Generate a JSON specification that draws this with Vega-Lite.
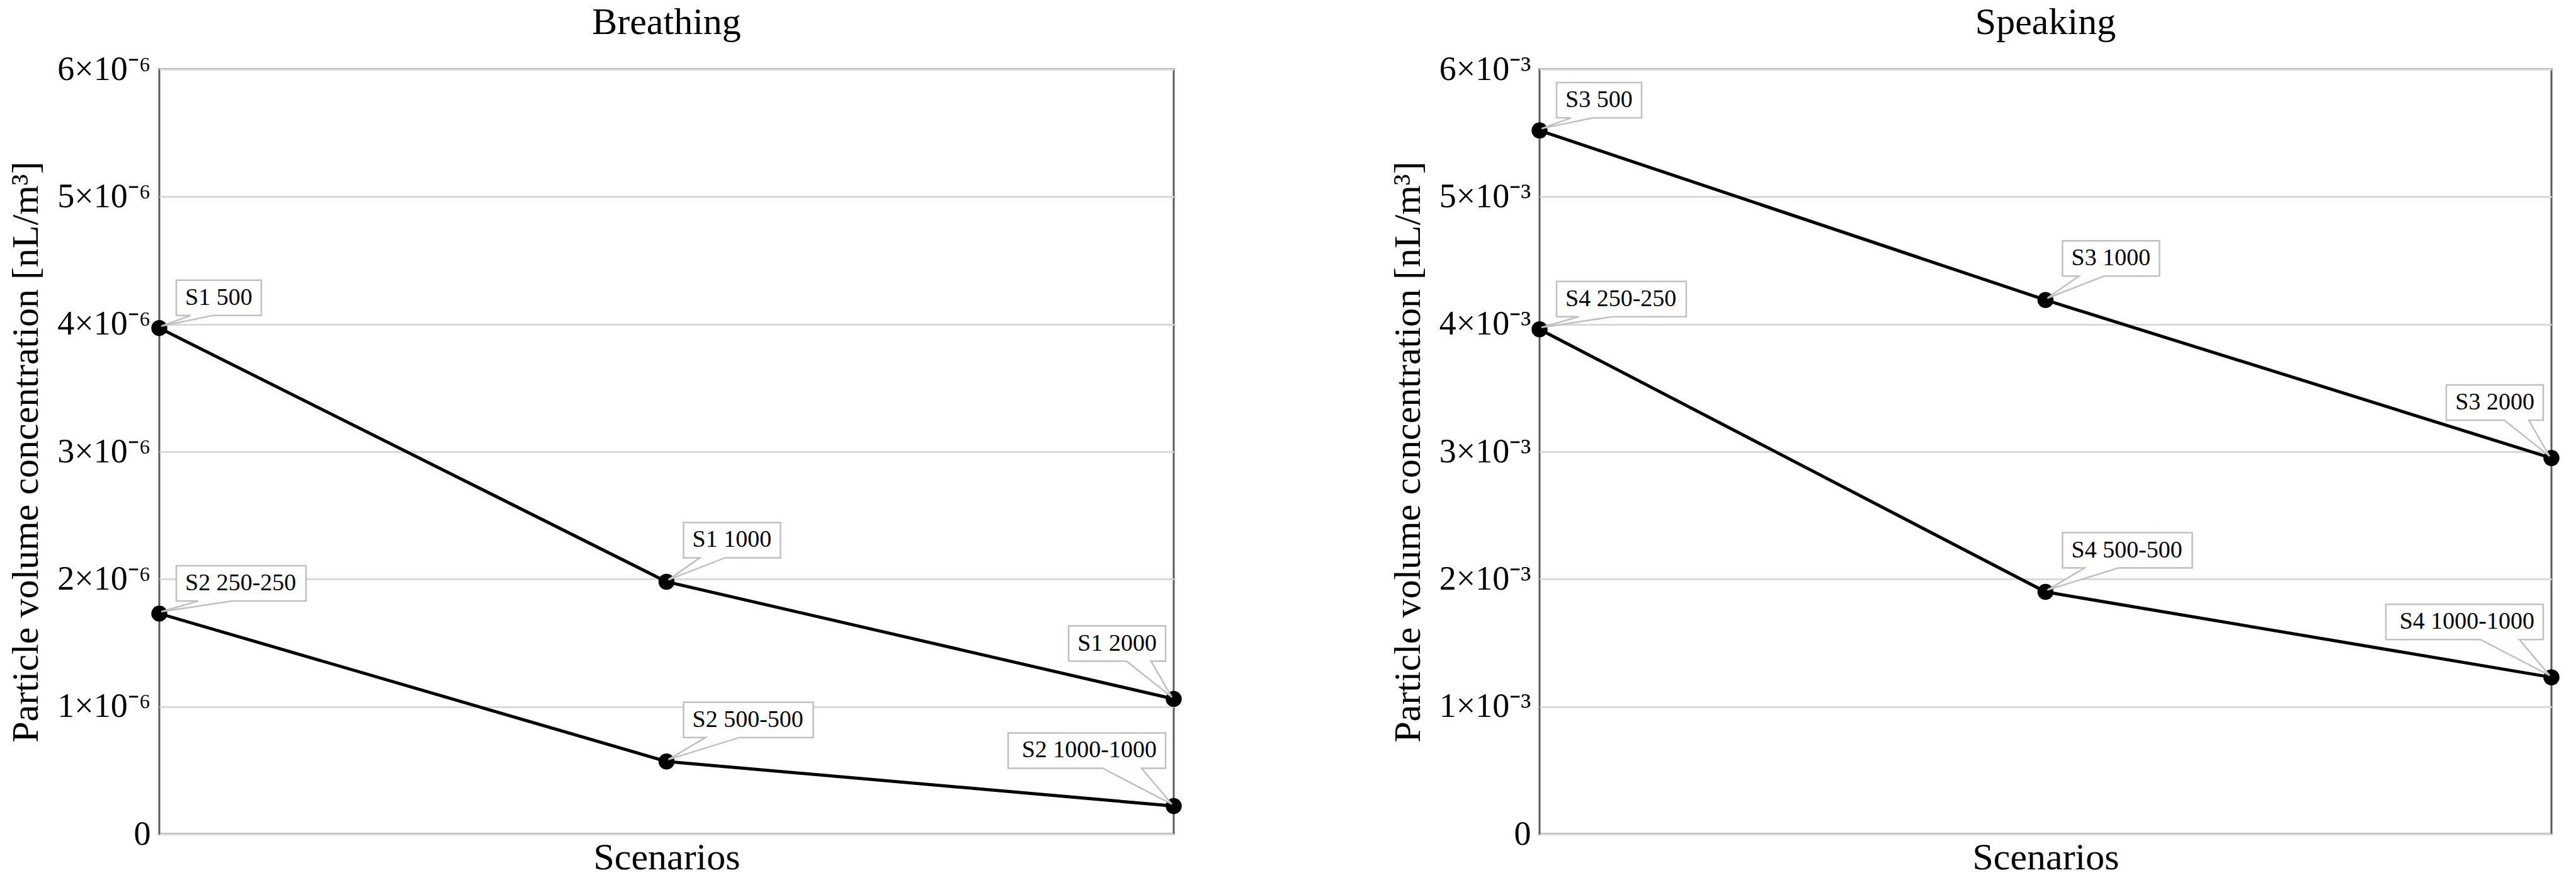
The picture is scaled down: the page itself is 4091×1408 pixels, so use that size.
{
  "$schema": "https://vega.github.io/schema/vega-lite/v6.json",
  "background": "white",
  "padding": {"left": 10, "top": 4, "right": 40, "bottom": 20},
  "config": {
    "font": "Liberation Serif",
    "view": {"stroke": "#5a5a5a", "strokeWidth": 3},
    "title": {"fontSize": 60, "font": "Liberation Serif", "fontWeight": "normal", "color": "#000", "offset": 16},
    "axis": {"labelFont": "Liberation Serif", "titleFont": "Liberation Serif", "titleFontWeight": "normal", "titleColor": "#000", "labelColor": "#000", "domain": false, "ticks": false, "gridColor": "#d9d9d9", "gridWidth": 3}
  },
  "data": {"values": [
    {"panel": "Breathing", "series": "S1", "step": 1, "label": "S1 500", "value": 3.97e-6},
    {"panel": "Breathing", "series": "S1", "step": 2, "label": "S1 1000", "value": 1.98e-6},
    {"panel": "Breathing", "series": "S1", "step": 3, "label": "S1 2000", "value": 1.06e-6},
    {"panel": "Breathing", "series": "S2", "step": 1, "label": "S2 250-250", "value": 1.73e-6},
    {"panel": "Breathing", "series": "S2", "step": 2, "label": "S2 500-500", "value": 0.57e-6},
    {"panel": "Breathing", "series": "S2", "step": 3, "label": "S2 1000-1000", "value": 0.22e-6},
    {"panel": "Speaking", "series": "S3", "step": 1, "label": "S3 500", "value": 5.52e-3},
    {"panel": "Speaking", "series": "S3", "step": 2, "label": "S3 1000", "value": 4.19e-3},
    {"panel": "Speaking", "series": "S3", "step": 3, "label": "S3 2000", "value": 2.95e-3},
    {"panel": "Speaking", "series": "S4", "step": 1, "label": "S4 250-250", "value": 3.96e-3},
    {"panel": "Speaking", "series": "S4", "step": 2, "label": "S4 500-500", "value": 1.90e-3},
    {"panel": "Speaking", "series": "S4", "step": 3, "label": "S4 1000-1000", "value": 1.23e-3}
  ]},
  "resolve": {"scale": {"x": "independent", "y": "independent", "shape": "shared"}, "axis": {"x": "independent", "y": "independent"}},
  "spacing": 325,
  "hconcat": [
    {
      "width": 1611, "height": 1214,
      "title": "Breathing",
      "transform": [{"filter": "datum.panel == 'Breathing'"}],
      "encoding": {
        "x": {"field": "step", "type": "ordinal", "scale": {"type": "point", "padding": 0}, "axis": {"title": "Scenarios", "labels": false, "grid": false, "titleFontSize": 60, "titlePadding": 8}},
        "y": {"field": "value", "type": "quantitative", "scale": {"domain": [0, 6e-6], "nice": false}, "axis": {"values": [0, 1e-6, 2e-6, 3e-6, 4e-6, 5e-6, 6e-6], "labelExpr": "datum.value == 0 ? '0' : round(datum.value * 1e6) + '×10⁻⁶'", "labelFontSize": 54, "labelPadding": 14, "title": "Particle volume concentration [nL/m³]", "titleFontSize": 60, "titlePadding": 18}}
      },
      "layer": [
        {"mark": {"type": "line", "color": "black", "strokeWidth": 5}, "encoding": {"detail": {"field": "series"}}},
        {"mark": {"type": "point", "filled": true, "color": "black", "size": 650, "opacity": 1, "shape": "circle"}},
        {"mark": {"type": "point", "filled": true, "fill": "white", "stroke": "#c0c0c0", "strokeWidth": 2.5, "size": 4, "opacity": 1},
         "encoding": {"shape": {"field": "label", "type": "nominal", "legend": null, "scale": {
           "domain": ["S1 500", "S1 1000", "S1 2000", "S2 250-250", "S2 500-500", "S2 1000-1000", "S3 500", "S3 1000", "S3 2000", "S4 250-250", "S4 500-500", "S4 1000-1000"],
           "range": ["M3,-3L50,-20L27,-20L27,-76L162,-76L162,-20L85,-20Z", "M3,-3L53,-38L27,-38L27,-94L181,-94L181,-38L93,-38Z", "M-3,-3L-36,-60L-13,-60L-13,-116L-167,-116L-167,-60L-75,-60Z", "M3,-3L62,-20L27,-20L27,-76L233,-76L233,-20L116,-20Z", "M3,-3L62,-38L27,-38L27,-94L233,-94L233,-38L116,-38Z", "M-3,-3L-51,-60L-13,-60L-13,-116L-263,-116L-263,-60L-113,-60Z", "M3,-3L50,-20L27,-20L27,-76L162,-76L162,-20L85,-20Z", "M3,-3L53,-38L27,-38L27,-94L181,-94L181,-38L93,-38Z", "M-3,-3L-36,-60L-13,-60L-13,-116L-167,-116L-167,-60L-75,-60Z", "M3,-3L62,-20L27,-20L27,-76L233,-76L233,-20L116,-20Z", "M3,-3L62,-38L27,-38L27,-94L233,-94L233,-38L116,-38Z", "M-3,-3L-51,-60L-13,-60L-13,-116L-263,-116L-263,-60L-113,-60Z"]}}}},
        {"transform": [{"filter": "datum.step == 1"}], "mark": {"type": "text", "align": "left", "baseline": "middle", "dx": 41, "dy": -48, "fontSize": 38, "font": "Liberation Serif", "color": "black"}, "encoding": {"text": {"field": "label"}}},
        {"transform": [{"filter": "datum.step == 2"}], "mark": {"type": "text", "align": "left", "baseline": "middle", "dx": 41, "dy": -66, "fontSize": 38, "font": "Liberation Serif", "color": "black"}, "encoding": {"text": {"field": "label"}}},
        {"transform": [{"filter": "datum.step == 3"}], "mark": {"type": "text", "align": "right", "baseline": "middle", "dx": -27, "dy": -88, "fontSize": 38, "font": "Liberation Serif", "color": "black"}, "encoding": {"text": {"field": "label"}}}
      ]
    },
    {
      "width": 1607, "height": 1214,
      "title": "Speaking",
      "transform": [{"filter": "datum.panel == 'Speaking'"}],
      "encoding": {
        "x": {"field": "step", "type": "ordinal", "scale": {"type": "point", "padding": 0}, "axis": {"title": "Scenarios", "labels": false, "grid": false, "titleFontSize": 60, "titlePadding": 8}},
        "y": {"field": "value", "type": "quantitative", "scale": {"domain": [0, 6e-3], "nice": false}, "axis": {"values": [0, 1e-3, 2e-3, 3e-3, 4e-3, 5e-3, 6e-3], "labelExpr": "datum.value == 0 ? '0' : round(datum.value * 1e3) + '×10⁻³'", "labelFontSize": 54, "labelPadding": 14, "title": "Particle volume concentration [nL/m³]", "titleFontSize": 60, "titlePadding": 18}}
      },
      "layer": [
        {"mark": {"type": "line", "color": "black", "strokeWidth": 5}, "encoding": {"detail": {"field": "series"}}},
        {"mark": {"type": "point", "filled": true, "color": "black", "size": 650, "opacity": 1, "shape": "circle"}},
        {"mark": {"type": "point", "filled": true, "fill": "white", "stroke": "#c0c0c0", "strokeWidth": 2.5, "size": 4, "opacity": 1},
         "encoding": {"shape": {"field": "label", "type": "nominal", "legend": null, "scale": {
           "domain": ["S1 500", "S1 1000", "S1 2000", "S2 250-250", "S2 500-500", "S2 1000-1000", "S3 500", "S3 1000", "S3 2000", "S4 250-250", "S4 500-500", "S4 1000-1000"],
           "range": ["M3,-3L50,-20L27,-20L27,-76L162,-76L162,-20L85,-20Z", "M3,-3L53,-38L27,-38L27,-94L181,-94L181,-38L93,-38Z", "M-3,-3L-36,-60L-13,-60L-13,-116L-167,-116L-167,-60L-75,-60Z", "M3,-3L62,-20L27,-20L27,-76L233,-76L233,-20L116,-20Z", "M3,-3L62,-38L27,-38L27,-94L233,-94L233,-38L116,-38Z", "M-3,-3L-51,-60L-13,-60L-13,-116L-263,-116L-263,-60L-113,-60Z", "M3,-3L50,-20L27,-20L27,-76L162,-76L162,-20L85,-20Z", "M3,-3L53,-38L27,-38L27,-94L181,-94L181,-38L93,-38Z", "M-3,-3L-36,-60L-13,-60L-13,-116L-167,-116L-167,-60L-75,-60Z", "M3,-3L62,-20L27,-20L27,-76L233,-76L233,-20L116,-20Z", "M3,-3L62,-38L27,-38L27,-94L233,-94L233,-38L116,-38Z", "M-3,-3L-51,-60L-13,-60L-13,-116L-263,-116L-263,-60L-113,-60Z"]}}}},
        {"transform": [{"filter": "datum.step == 1"}], "mark": {"type": "text", "align": "left", "baseline": "middle", "dx": 41, "dy": -48, "fontSize": 38, "font": "Liberation Serif", "color": "black"}, "encoding": {"text": {"field": "label"}}},
        {"transform": [{"filter": "datum.step == 2"}], "mark": {"type": "text", "align": "left", "baseline": "middle", "dx": 41, "dy": -66, "fontSize": 38, "font": "Liberation Serif", "color": "black"}, "encoding": {"text": {"field": "label"}}},
        {"transform": [{"filter": "datum.step == 3"}], "mark": {"type": "text", "align": "right", "baseline": "middle", "dx": -27, "dy": -88, "fontSize": 38, "font": "Liberation Serif", "color": "black"}, "encoding": {"text": {"field": "label"}}}
      ]
    }
  ]
}
